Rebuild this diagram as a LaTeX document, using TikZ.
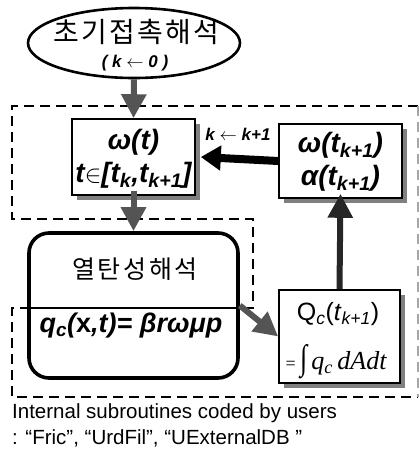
\documentclass[tikz,border=0pt]{standalone}
\usepackage{fontspec}
\setmainfont{Liberation Sans}
\newfontfamily\kor{Noto Sans CJK KR}
\newfontfamily\serifup{Liberation Serif}
\usetikzlibrary{arrows.meta,shapes.geometric,shadows}

\definecolor{shade}{gray}{0.5}
\definecolor{headgray}{gray}{0.33}

\tikzset{
  outline/.style={line width=2.2pt, dash pattern=on 10pt off 6pt},
  stepbox/.style={draw, line width=1.6pt, fill=white, inner sep=0pt,
    drop shadow={shadow xshift=5pt, shadow yshift=-5pt, fill=shade, opacity=1}},
  flow/.style={line width=6pt, draw=headgray,
    -{Triangle[length=24pt, width=24pt]}},
  dflow/.style={line width=8pt, draw=black,
    -{Triangle[length=20pt, width=24pt]}},
  eq/.style={font=\fontsize{28}{30}\selectfont\bfseries\itshape, inner sep=0pt},
}

\begin{document}
\begin{tikzpicture}[x=1pt,y=-1pt]
\useasboundingbox (0,0) rectangle (420,459);

% dashed frame around the inner solver loop
\draw[outline] (418,106) -- (12,106) -- (12,219) -- (253,219) -- (253,308)
  -- (12,308) -- (12,397) -- (418,397);
\draw[outline, draw=gray!70, line width=1.6pt] (418,106) -- (418,397);

% initial contact analysis
\node[ellipse, draw, line width=2.6pt, minimum width=212pt, minimum height=70pt,
  inner sep=0pt] (ell) at (134,43) {};
\node[font=\kor\fontsize{28}{30}\selectfont\addfontfeature{LetterSpace=8}, inner sep=0pt]
  (elltxt) at (136,32) {초기접촉해석};
\node[font=\fontsize{17}{18}\selectfont\bfseries\itshape, inner sep=0pt] (ellk) at (135,63)
  {( k {\normalfont$\leftarrow$} 0 )};

% time step box
\node[stepbox, minimum width=123pt, minimum height=76pt] (b1) at (133.5,157) {};
\node[eq] (b1a) at (133.5,142) {ω(t)};
\node[eq] (b1b) at (133.5,175) {t{\normalfont$\in$}[t\textsubscript{k},t\textsubscript{k+1}]};

% updated speed box
\node[stepbox, minimum width=123pt, minimum height=74pt] (b2) at (340.5,161) {};
\node[eq] (b2a) at (340.5,145) {ω(t\textsubscript{k+1})};
\node[eq] (b2b) at (340.5,178) {α(t\textsubscript{k+1})};

% thermoelastic analysis
\node[draw, line width=3.6pt, rounded corners=20pt, minimum width=209pt,
  minimum height=145pt, inner sep=0pt] (rb) at (133.5,305.5) {};
\node[font=\kor\fontsize{25}{27}\selectfont\addfontfeature{LetterSpace=11}, inner sep=0pt]
  (rbtitle) at (135,269) {열탄성해석};
\node[eq, font=\fontsize{27}{29}\selectfont\bfseries\itshape] (rbeq) at (131,326)
  {q\textsubscript{c}({\upshape x},t)= βrωμp};
\draw[outline] (rb.west |- 0,308) -- (253,308);

% frictional heat box
\node[stepbox, minimum width=121pt, minimum height=93pt] (b3) at (339.5,336.5) {};
\node[inner sep=0pt, font=\fontsize{25}{27}\selectfont] (b3a) at (338,314)
  {Q\textsubscript{\itshape c}(\textit{t}\textsubscript{\itshape k+1})};
\node[inner sep=0pt, font=\serifup\fontsize{26}{28}\selectfont] (b3b) at (336,362)
  {{\fontsize{18}{20}\selectfont=}\,\scalebox{1}[1.35]{∫}\,{\itshape q\textsubscript{c}\,dAdt}};

% connectors
\draw[flow] (ell.south) -- (b1.north);
\draw[dflow] (b2.west) -- ([xshift=5pt]b1.east);
\node[font=\fontsize{17}{18}\selectfont\bfseries\itshape, inner sep=0pt] (klab) at (238,134)
  {k {\normalfont$\leftarrow$} k+1};
\draw[flow] ([yshift=5pt]b1.south) -- (rb.north);
\draw[flow] (rb.east) -- (b3.west);
\draw[flow, draw=black!85] (b3.north) -- ([yshift=5pt]b2.south);

% caption
\node[anchor=west, inner sep=0pt, font=\fontsize{20.5}{22}\selectfont] (cap1) at (12,413)
  {Internal subroutines coded by users};
\node[anchor=west, inner sep=0pt, font=\fontsize{20.5}{22}\selectfont] (cap2) at (12,438)
  {: “Fric”, “UrdFil”, “UExternalDB ”};
\end{tikzpicture}
\end{document}
